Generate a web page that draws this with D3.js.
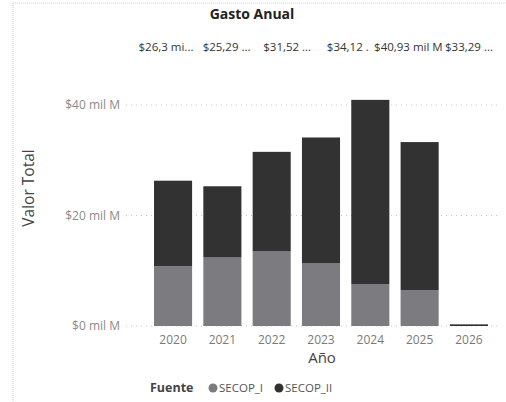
<!DOCTYPE html>
<html>
<head>
<meta charset="utf-8">
<script src="https://cdn.jsdelivr.net/npm/d3@7/dist/d3.min.js"></script>
<style>
  body { margin: 0; background: #fff; }
  text { font-family: "Segoe UI", "Open Sans", sans-serif; }
</style>
</head>
<body>
<div id="chart"></div>
<script>
var years = ["2020", "2021", "2022", "2023", "2024", "2025", "2026"];
var secop1 = [10.8, 12.4, 13.5, 11.4, 7.6, 6.5, 0];
var secop2 = [15.5, 12.89, 18.02, 22.72, 33.33, 26.79, 0.3];
var topLabels = ["$26,3 mi...", "$25,29 ...", "$31,52 ...", "$34,12 .", "$40,93 mil M", "$33,29 ..."];
var yTicks = [0, 20, 40];
var series = ["SECOP_I", "SECOP_II"];

function init(){
    var w = 506;
    var h = 402;

    var svg = d3.select("#chart")
                .append("svg")
                .attr("width", w)
                .attr("height", h);

    var color = d3.scaleOrdinal()
                  .domain(series)
                  .range(["#7b7b80", "#323232"]);

    var x = d3.scaleBand()
              .domain(years)
              .range([148.4, 493.6])
              .paddingInner(0.228)
              .paddingOuter(0.114);

    var y = d3.scaleLinear()
              .domain([0, 40])
              .range([326, 105]);

    // frame lines of the screenshot
    svg.append("line")
       .attr("x1", 13).attr("x2", 13).attr("y1", 3).attr("y2", h)
       .attr("stroke", "#c8c8c8").attr("stroke-dasharray", "1,1");
    svg.append("line")
       .attr("x1", 13).attr("x2", w).attr("y1", 3).attr("y2", 3)
       .attr("stroke", "#cfcfcf").attr("stroke-dasharray", "1,1");

    // gridlines
    svg.selectAll("line.grid")
       .data(yTicks)
       .enter()
       .append("line")
       .attr("class", "grid")
       .attr("x1", 126)
       .attr("x2", 500)
       .attr("y1", function(d){ return y(d); })
       .attr("y2", function(d){ return y(d); })
       .attr("stroke", "#c4c4c4")
       .attr("stroke-dasharray", "1,4");

    // y tick labels
    svg.selectAll("text.ytick")
       .data(yTicks)
       .enter()
       .append("text")
       .attr("class", "ytick")
       .attr("x", 120)
       .attr("y", function(d){ return y(d); })
       .attr("dy", "0.35em")
       .attr("text-anchor", "end")
       .style("font-size", "12px")
       .style("fill", "#8a8a8a")
       .text(function(d){ return "$" + d + " mil M"; });

    // stacked bars
    var rows = years.map(function(yr, i){
        return {year: yr, SECOP_I: secop1[i], SECOP_II: secop2[i]};
    });
    var stack = d3.stack().keys(series)(rows);

    svg.selectAll("g.layer")
       .data(stack)
       .enter()
       .append("g")
       .attr("class", "layer")
       .attr("fill", function(d){ return color(d.key); })
       .selectAll("rect")
       .data(function(d){ return d; })
       .enter()
       .append("rect")
       .attr("x", function(d){ return x(d.data.year); })
       .attr("width", x.bandwidth())
       .attr("y", function(d){ return y(d[1]); })
       .attr("height", function(d){ return Math.max(0, y(d[0]) - y(d[1])); });

    // x tick labels
    svg.selectAll("text.xtick")
       .data(years)
       .enter()
       .append("text")
       .attr("class", "xtick")
       .attr("x", function(d){ return x(d) + x.bandwidth() / 2; })
       .attr("y", 344)
       .attr("text-anchor", "middle")
       .style("font-size", "12px")
       .style("fill", "#7a7a7a")
       .text(function(d){ return d; });

    // axis titles
    svg.append("text")
       .attr("x", 322)
       .attr("y", 363)
       .attr("text-anchor", "middle")
       .style("font-size", "15px")
       .style("fill", "#444")
       .text("Año");

    svg.append("text")
       .attr("transform", "translate(34,188) rotate(-90)")
       .attr("text-anchor", "middle")
       .style("font-size", "15.5px")
       .style("fill", "#444")
       .text("Valor Total");

    // title
    svg.append("text")
       .attr("x", 252)
       .attr("y", 19)
       .attr("text-anchor", "middle")
       .style("font-size", "14px")
       .style("font-weight", "bold")
       .style("fill", "#222")
       .text("Gasto Anual");

    // total labels row
    var lx = d3.scalePoint()
               .domain(years.slice(0, 6))
               .range([166, 469]);

    svg.selectAll("text.total")
       .data(topLabels)
       .enter()
       .append("text")
       .attr("class", "total")
       .attr("x", function(d, i){ return lx(years[i]); })
       .attr("y", 51)
       .attr("text-anchor", "middle")
       .style("font-size", "11.5px")
       .style("fill", "#333")
       .text(function(d){ return d; });

    // legend
    var legend = svg.append("g").attr("transform", "translate(150,388)");
    legend.append("text")
          .attr("x", 0).attr("y", 0).attr("dy", "0.35em")
          .style("font-size", "12.5px")
          .style("font-weight", "bold")
          .style("fill", "#444")
          .text("Fuente");

    var item = legend.selectAll("g.item")
                     .data(series)
                     .enter()
                     .append("g")
                     .attr("class", "item")
                     .attr("transform", function(d, i){ return "translate(" + (63 + i * 66) + ",0)"; });
    item.append("circle")
        .attr("r", 4.5)
        .attr("fill", function(d){ return color(d); });
    item.append("text")
        .attr("x", 6).attr("dy", "0.35em")
        .style("font-size", "11.5px")
        .style("fill", "#555")
        .text(function(d){ return d; });
}

window.onload = init;
</script>
</body>
</html>
